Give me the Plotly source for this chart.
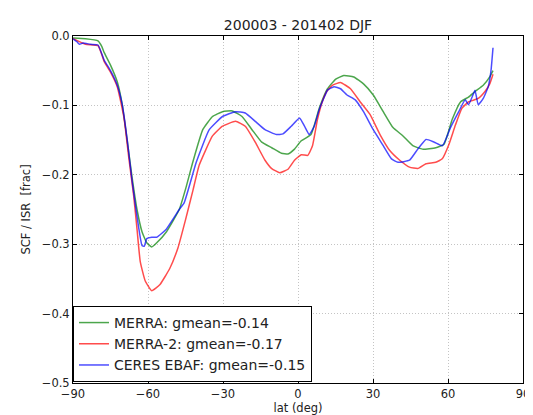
import plotly.graph_objects as go

title = "200003 - 201402 DJF"
x_label = "lat (deg)"
y_label = "SCF / ISR  [frac]"
x_ticks = [-90, -60, -30, 0, 30, 60, 90]
y_ticks = [0.0, -0.1, -0.2, -0.3, -0.4, -0.5]

merra_lat = [-90, -85, -80, -78.5, -77.5, -75, -72.3, -70.3, -68.3, -66.4, -64.4, -62.4, -60.5, -58.5,
             -56.5, -52.6, -47.5, -44.7, -42.1, -38.1, -34.2, -30.2, -26.3, -22.4, -18.4, -14.5, -10.5,
             -6.6, -4.0, -1.4, 1.3, 5.2, 8.5, 11.8, 15.1, 18.3, 22.3, 26.2, 30.1, 34.1, 38, 42, 45.9,
             49.8, 55.1, 58.4, 61.7, 65, 68.2, 70.8, 74.1, 76.7, 78]
merra_val = [-0.003, -0.004, -0.007, -0.015, -0.024, -0.042, -0.066, -0.099, -0.151, -0.203, -0.25, -0.282,
             -0.298, -0.304, -0.298, -0.282, -0.25, -0.217, -0.182, -0.135, -0.116, -0.109, -0.108, -0.116,
             -0.135, -0.153, -0.161, -0.169, -0.17, -0.163, -0.151, -0.142, -0.104, -0.076, -0.062, -0.057,
             -0.059, -0.069, -0.085, -0.109, -0.132, -0.144, -0.158, -0.163, -0.161, -0.156, -0.12, -0.095,
             -0.088, -0.08, -0.071, -0.059, -0.05]

merra2_lat = [-90, -85, -80, -77.5, -75, -72.3, -69.6, -67.7, -65.7, -64.4, -63.1, -61.1, -58.5, -55.2,
              -51.3, -48, -45, -42, -39.5, -34.2, -30.2, -25, -21.1, -17.1, -13.2, -10.5, -7.3, -4.0, -1.4,
              1.3, 3.9, 5.8, 7.8, 9.8, 11.5, 13.7, 17.0, 21, 24.9, 28.8, 32.8, 36.7, 40.7, 44.6, 47.9,
              51.2, 55.1, 57.7, 60.4, 63.0, 65.6, 68.2, 72.1, 74.8, 76.7, 78]
merra2_val = [-0.004, -0.012, -0.014, -0.037, -0.052, -0.073, -0.118, -0.175, -0.231, -0.278, -0.325, -0.353,
              -0.367, -0.358, -0.335, -0.305, -0.265, -0.222, -0.186, -0.144, -0.13, -0.123, -0.13, -0.153,
              -0.179, -0.191, -0.197, -0.192, -0.179, -0.171, -0.172, -0.158, -0.12, -0.094, -0.08, -0.071,
              -0.067, -0.076, -0.095, -0.113, -0.142, -0.165, -0.179, -0.189, -0.191, -0.184, -0.182, -0.177,
              -0.156, -0.128, -0.104, -0.095, -0.09, -0.08, -0.069, -0.055]

ceres_lat = [-90, -88.5, -87.4, -86, -83, -80, -77.5, -75, -72.3, -70.3, -68.3, -66.4, -64.4, -62.4, -61.5,
             -60.5, -58.5, -56.5, -52.6, -47.5, -45.5, -40.7, -35.5, -30.2, -25, -21.1, -17.1, -13.2, -8.6,
             -6.0, -2.7, 0.6, 2.6, 4.5, 6.5, 8.5, 10.5, 11.8, 14.4, 17.0, 19.6, 22.9, 26.2, 30.1, 34.1,
             37.4, 40, 44.6, 47.9, 51.2, 54.5, 57.8, 61, 64.3, 66.9, 68.2, 70.2, 70.8, 72.1, 74.1, 76.1,
             77.2, 78]
ceres_val = [-0.004, -0.008, -0.012, -0.010, -0.012, -0.013, -0.035, -0.05, -0.071, -0.099, -0.15, -0.208,
             -0.26, -0.302, -0.303, -0.292, -0.29, -0.29, -0.278, -0.25, -0.24, -0.182, -0.135, -0.116,
             -0.109, -0.111, -0.123, -0.135, -0.142, -0.141, -0.13, -0.118, -0.13, -0.142, -0.13, -0.106,
             -0.088, -0.078, -0.073, -0.076, -0.085, -0.092, -0.109, -0.135, -0.158, -0.177, -0.182, -0.179,
             -0.163, -0.149, -0.153, -0.158, -0.132, -0.109, -0.092, -0.099, -0.083, -0.078, -0.099, -0.09,
             -0.073, -0.05, -0.017]

series = [
    ("MERRA: gmean=-0.14", merra_lat, merra_val, "rgba(0,128,0,0.7)"),
    ("MERRA-2: gmean=-0.17", merra2_lat, merra2_val, "rgba(255,0,0,0.7)"),
    ("CERES EBAF: gmean=-0.15", ceres_lat, ceres_val, "rgba(0,0,255,0.7)"),
]

FONT = "DejaVu Sans"
fig = go.Figure()
for name, lat, val, col in series:
    fig.add_trace(go.Scatter(x=lat, y=val, mode="lines", name=name,
                             line=dict(color=col, width=1.5, shape="spline", smoothing=0.4)))

axis_common = dict(showline=True, linecolor="black", linewidth=1, mirror="ticks",
                   ticks="inside", ticklen=4, tickcolor="black",
                   showgrid=True, gridcolor="#c4c4c4", griddash="1px,2px", gridwidth=1,
                   zeroline=False, tickfont=dict(family=FONT, size=11.5, color="#222"))

fig.update_layout(
    width=533, height=415,
    margin=dict(l=65, r=11, t=28, b=33),
    paper_bgcolor="white", plot_bgcolor="white",
    font=dict(family=FONT, color="#222"),
    title=dict(text=title, x=0.5, xref="paper", y=1 - 17 / 415, yanchor="middle",
               font=dict(family=FONT, size=14, color="#222")),
    xaxis=dict(range=[-90, 90], tickvals=x_ticks, ticktext=[str(t).replace("-", "\u2212") for t in x_ticks],
               title=dict(text=x_label, standoff=3, font=dict(family=FONT, size=11.5, color="#222")),
               **axis_common),
    yaxis=dict(range=[-0.5, 0.0], tickvals=y_ticks, tickformat=".1f",
               title=dict(text=y_label, standoff=8, font=dict(family=FONT, size=11.5, color="#222")),
               **axis_common),
    showlegend=True,
    legend=dict(x=0.0, y=0.222, xanchor="left", yanchor="top", bgcolor="white",
                bordercolor="black", borderwidth=1, itemwidth=30, tracegroupgap=0,
                font=dict(family=FONT, size=14, color="#222")),
)

fig.write_html("out.html")
